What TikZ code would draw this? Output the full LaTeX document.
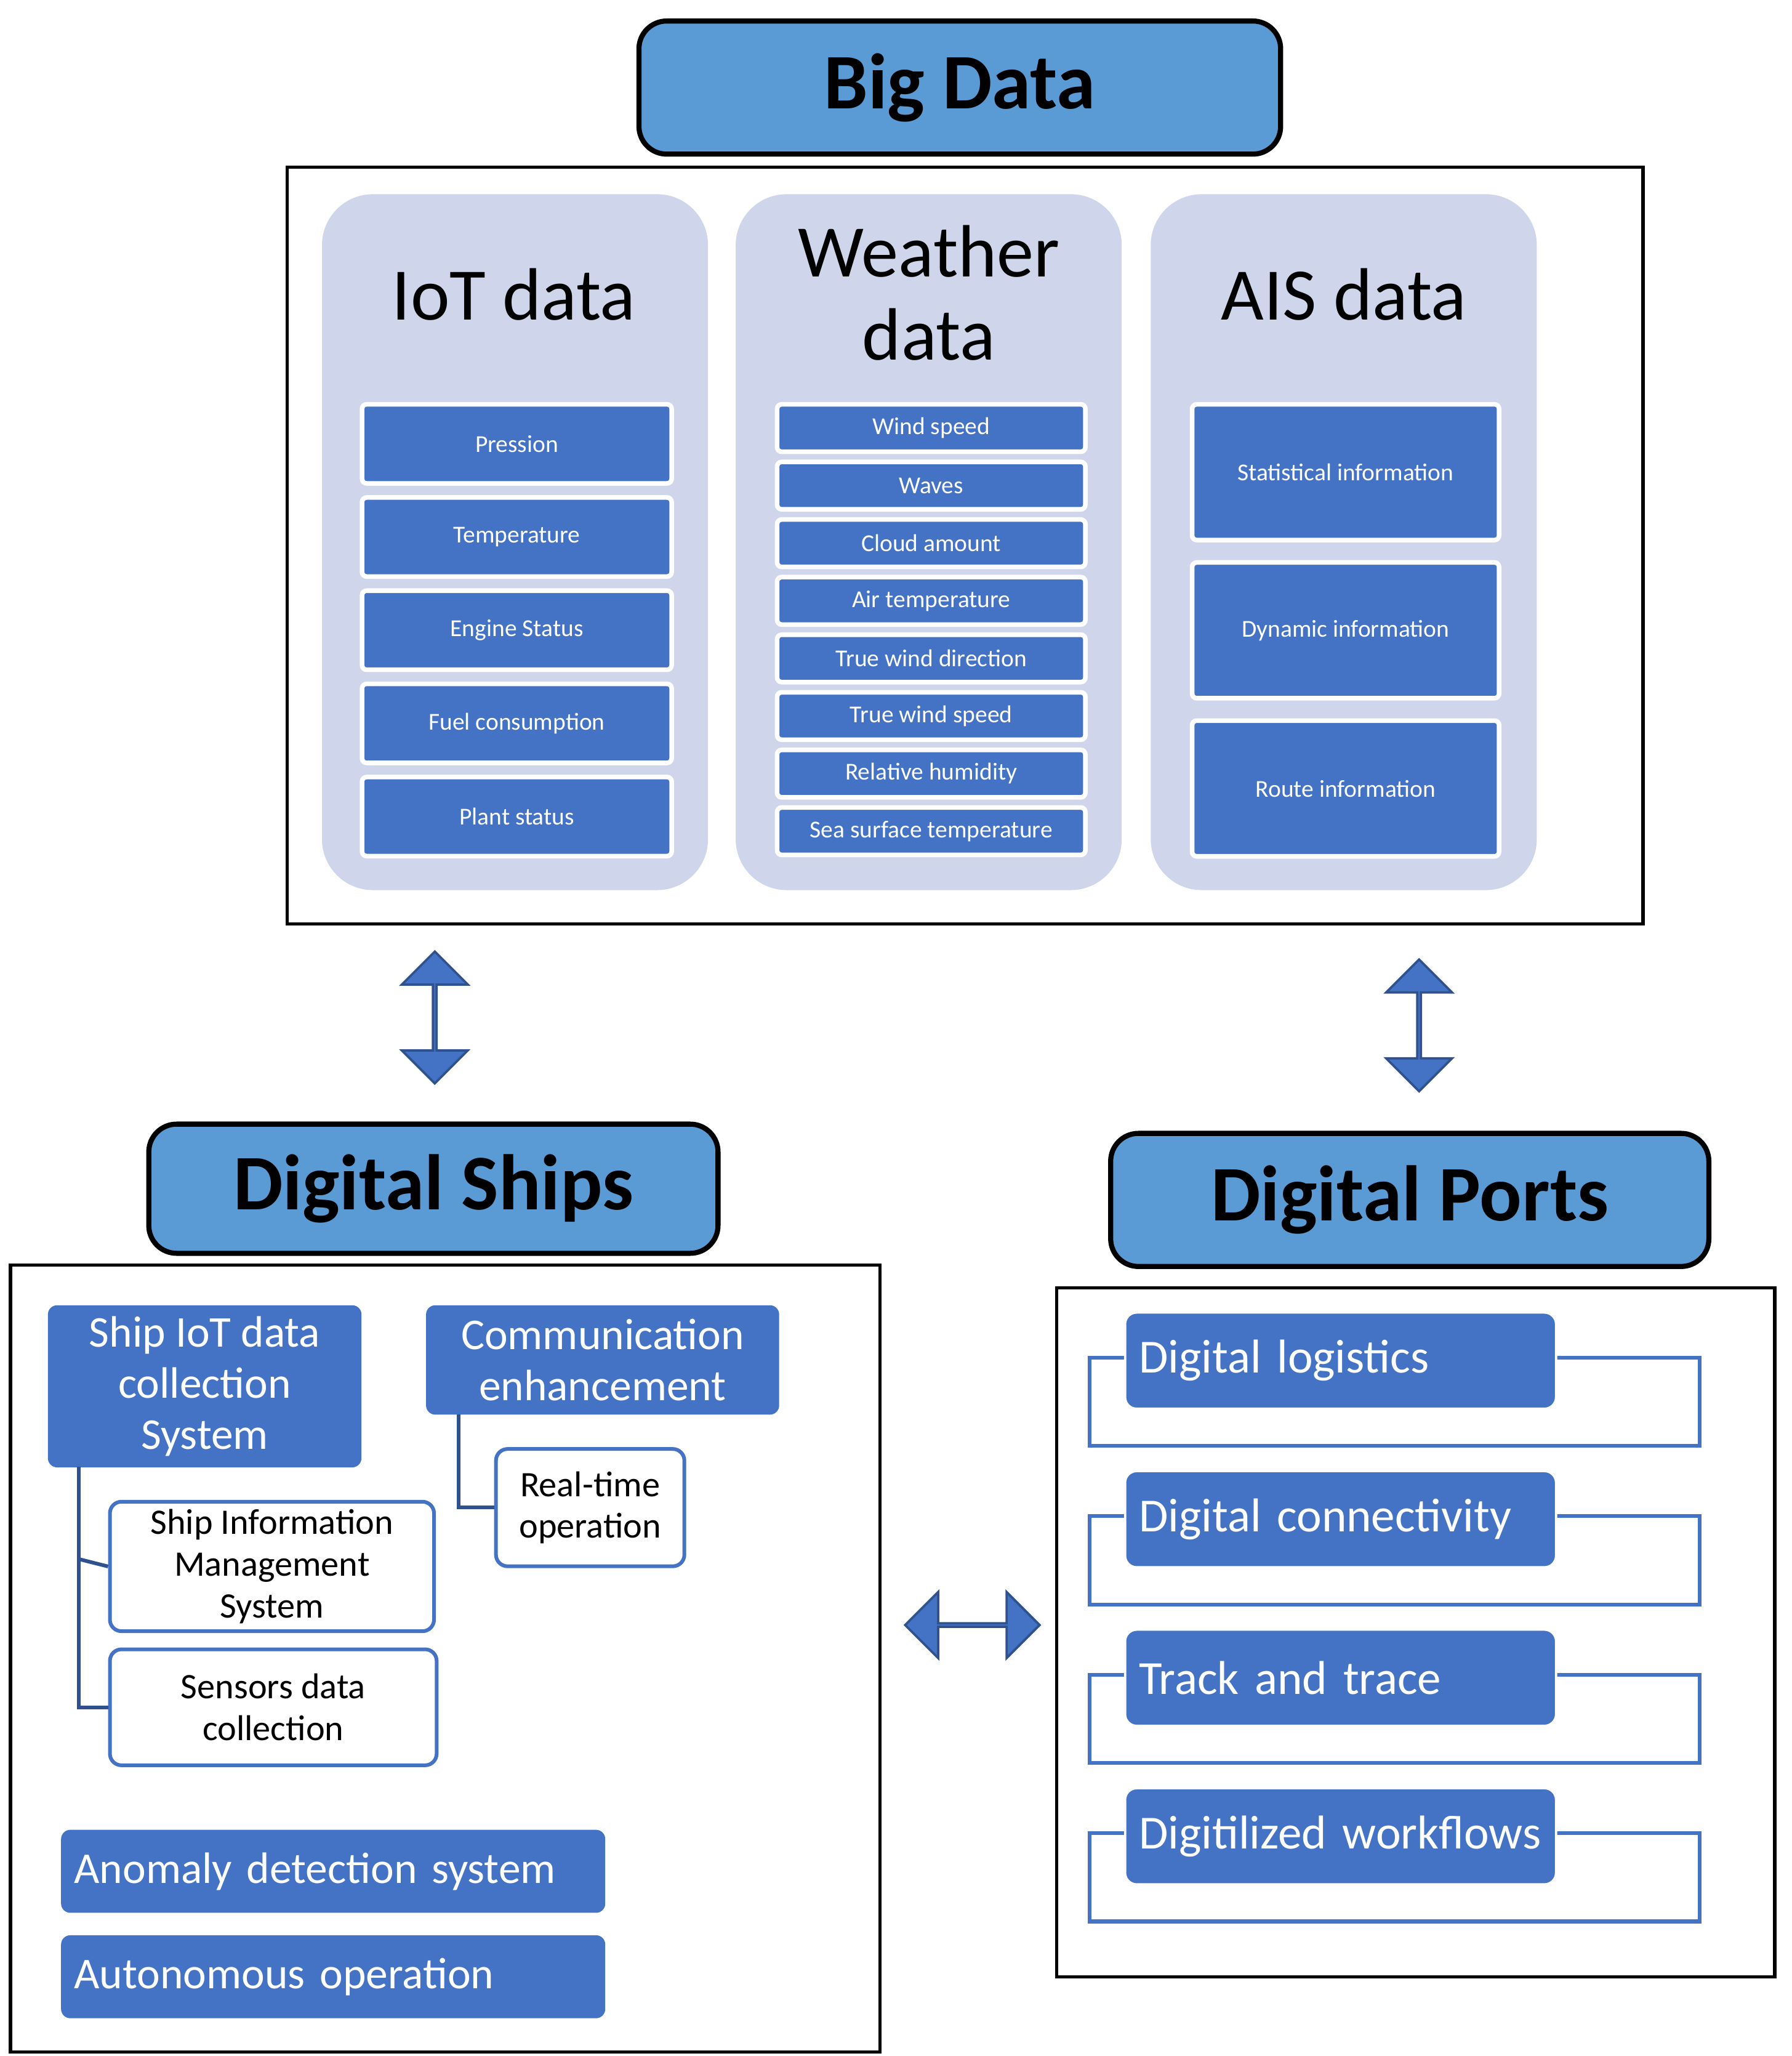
\documentclass[tikz,border=0pt]{standalone}
\usepackage{fontspec}
\setmainfont{Carlito}
\usetikzlibrary{shapes.arrows}
\definecolor{titleblue}{HTML}{5B9BD5}
\definecolor{itemblue}{HTML}{4472C4}
\definecolor{darkblue}{HTML}{2F528F}
\definecolor{panel}{HTML}{CFD5EA}
\tikzset{
  title/.style={draw=black, line width=2.2pt, fill=titleblue, rounded corners=12pt,
    anchor=north west, font=\fontsize{34}{40}\selectfont\bfseries},
  frame/.style={draw=black, line width=1.4pt},
  panel/.style={fill=panel, rounded corners=22pt, anchor=north west, align=center,
    font=\fontsize{32}{36}\selectfont, text depth=0pt},
  item/.style={fill=itemblue, draw=white, line width=2pt, rounded corners=2pt,
    anchor=north west, text=white, font=\fontsize{10.5}{12}\selectfont},
  bigitem/.style={fill=itemblue, rounded corners=4pt, anchor=north west, text=white,
    align=center, font=\fontsize{19}{22}\selectfont},
  subitem/.style={fill=white, draw=itemblue, line width=1.6pt, rounded corners=5pt,
    anchor=north west, align=center, font=\fontsize{15.5}{18}\selectfont},
  leftitem/.style={fill=itemblue, draw=white, line width=1pt, rounded corners=5pt,
    anchor=north west, text=white, align=left, inner sep=6pt,
    font=\fontsize{20.5}{24}\selectfont},
  link/.style={darkblue, line width=1.6pt},
  portlink/.style={itemblue, line width=1.6pt},
  dblarrow/.style={double arrow, fill=itemblue, draw=darkblue, line width=1pt,
    double arrow head extend=0.3cm, minimum width=1.0cm, inner sep=0pt}
}
\begin{document}
\begin{tikzpicture}[x=0.02cm, y=-0.02cm]
\useasboundingbox (0,0) rectangle (1360,1560);
% Big Data
\node[title, minimum width={487*0.02cm}, minimum height={101*0.02cm}] (bigdata) at (483,14) {Big Data};
\draw[frame] (218,127) rectangle (1247,701);
\node[panel, minimum width={293*0.02cm}, minimum height={528*0.02cm}] (iotpanel) at (244,147) {};
\node[panel, minimum width={293*0.02cm}, minimum height={528*0.02cm}] (wxpanel) at (558,147) {};
\node[panel, minimum width={293*0.02cm}, minimum height={528*0.02cm}] (aispanel) at (873,147) {};
\node[panel, anchor=center] (iottitle) at (390,223) {IoT data};
\node[panel, anchor=center] (wxtitle) at (705,222) {Weather\\data};
\node[panel, anchor=center] (aistitle) at (1020,223) {AIS data};
% IoT items
\foreach \t [count=\i from 0] in {Pression, Temperature, Engine Status, Fuel consumption, Plant status}
  \node[item, minimum width={235*0.02cm}, minimum height={60*0.02cm}] (iot\i) at (273,305+70.7*\i) {\t};
% Weather items
\foreach \t [count=\i from 0] in {Wind speed, Waves, Cloud amount, Air temperature, True wind direction, True wind speed, Relative humidity, Sea surface temperature}
  \node[item, minimum width={234*0.02cm}, minimum height={36*0.02cm}] (wx\i) at (588,305+43.7*\i) {\t};
% AIS items
\foreach \t [count=\i from 0] in {Statistical information, Dynamic information, Route information}
  \node[item, minimum width={233*0.02cm}, minimum height={103*0.02cm}] (ais\i) at (903,305+120*\i) {\t};
% arrows
\node[dblarrow, rotate=90, minimum height={100*0.02cm}] (arrowships) at (330,772) {};
\node[dblarrow, rotate=90, minimum height={100*0.02cm}] (arrowports) at (1077,778) {};
\node[dblarrow, minimum height={102*0.02cm}] (arrowmid) at (738,1233) {};
% Digital Ships
\node[title, minimum width={432*0.02cm}, minimum height={98*0.02cm}] (ships) at (111,851) {Digital Ships};
\draw[frame] (8,960) rectangle (668,1557);
\node[bigitem, minimum width={238*0.02cm}, minimum height={123*0.02cm}] (shipiot) at (36,990) {Ship IoT data\\collection\\System};
\node[bigitem, minimum width={268*0.02cm}, minimum height={83*0.02cm}] (comm) at (323,990) {Communication\\enhancement};
\node[subitem, minimum width={143*0.02cm}, minimum height={89*0.02cm}] (realtime) at (375,1098) {Real-time\\operation};
\node[subitem, minimum width={246*0.02cm}, minimum height={89*0.02cm}] (sims) at (82,1138) {Ship Information\\Management\\System};
\node[subitem, minimum width={248*0.02cm}, minimum height={88*0.02cm}] (sensors) at (82,1250) {Sensors data\\collection};
\draw[link] (60,1113) |- (sensors.west);
\draw[link] (60,1183) -- (sims.west);
\draw[link] (348,1073) |- (realtime.west);
\node[bigitem, align=left, text width={393*0.02cm}, minimum height={63*0.02cm}, inner sep={10*0.02cm}] (anomaly) at (46,1388) {Anomaly detection system};
\node[bigitem, align=left, text width={393*0.02cm}, minimum height={63*0.02cm}, inner sep={10*0.02cm}] (autonomous) at (46,1468) {Autonomous operation};
% Digital Ports
\node[title, minimum width={454*0.02cm}, minimum height={101*0.02cm}] (ports) at (841,858) {Digital Ports};
\draw[frame] (802,977) rectangle (1347,1500);
\foreach \t [count=\i from 0] in {Digital logistics, Digital connectivity, Track and trace, Digitilized workflows}{
  \draw[portlink] (827,1030+120.3*\i) rectangle (1290,1097+120.3*\i);
  \node[leftitem, text width={306*0.02cm}, minimum height={73*0.02cm}] (port\i) at (853,995+120.3*\i) {\t};
}
\end{tikzpicture}
\end{document}
